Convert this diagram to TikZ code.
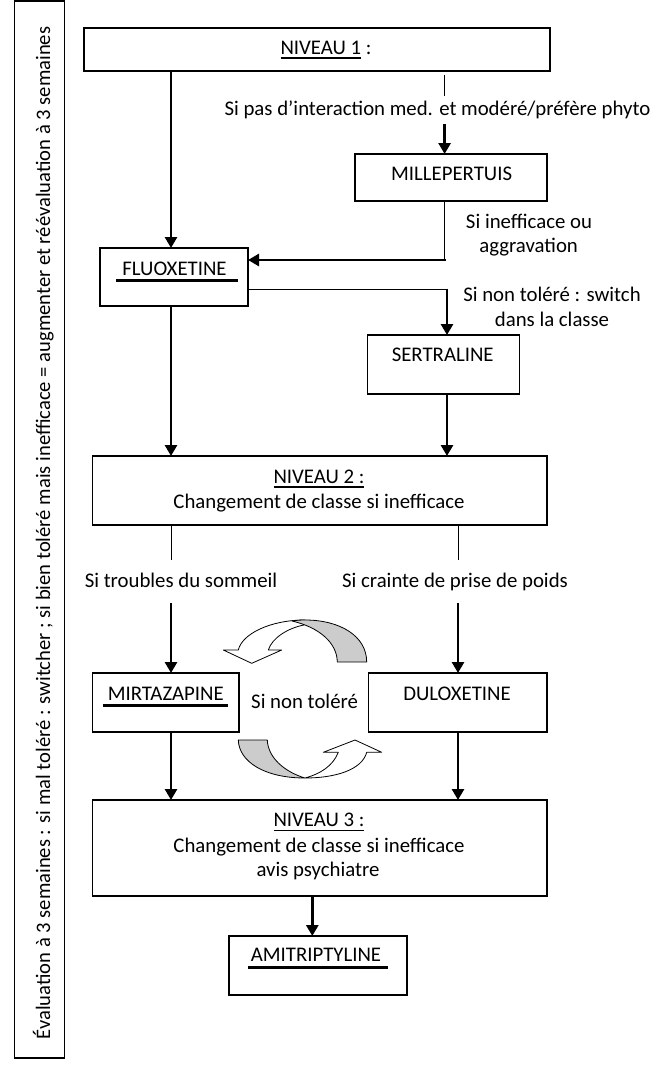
\documentclass[tikz,border=0pt]{standalone}
\usepackage{fontspec}
\setmainfont{Carlito}
\usetikzlibrary{arrows.meta}
\newcommand\myfs{\fontsize{20.8}{25}\selectfont}
\newcommand\mysidefs{\fontsize{20.6}{24}\selectfont}
\newcommand\myul[1]{\setbox0\hbox{#1}\makebox[0pt][l]{\rule[-4.2pt]{\wd0}{1.4pt}}\box0}
\newcommand\mythul[3]{\setbox0\hbox{#1}\makebox[0pt][l]{\hspace*{-#2}\rule[-7.3pt]{\dimexpr\wd0+#2+#3\relax}{3pt}}\box0}
\begin{document}
\begin{tikzpicture}[x=1pt,y=-1pt,
 box/.style={draw, line width=1.2pt, inner sep=0pt, outer sep=0pt},
 txt/.style={inner sep=0pt, anchor=base, font=\myfs},
 arr/.style={line width=2.8pt, -{Triangle[length=11pt,width=12pt]}},
 thinl/.style={line width=1pt},
 shp/.style={draw, line width=0.8pt, line join=round}]
\useasboundingbox (0,0) rectangle (662,1066);
% side frame
\node[box, line width=1.4pt, minimum width=49.5, minimum height=1057] (frame) at (39.5,529.5) {};
\node[txt, font=\mysidefs, rotate=90] (side) at (50,533) {Évaluation à 3 semaines : si mal toléré : switcher ; si bien toléré mais inefficace = augmenter et réévaluation à 3 semaines};
% boxes
\node[box, minimum width=466, minimum height=43] (niv1) at (317,49.5) {};
\node[box, minimum width=192, minimum height=47] (mil) at (451,177.5) {};
\node[box, minimum width=148, minimum height=58] (fluo) at (174,277) {};
\node[box, minimum width=152, minimum height=59] (sert) at (443.6,364.5) {};
\node[box, minimum width=454.3, minimum height=69] (niv2) at (319.8,490.5) {};
\node[box, minimum width=146.3, minimum height=59] (mirt) at (165.9,702.5) {};
\node[box, minimum width=178.2, minimum height=59] (dul) at (457.9,702.5) {};
\node[box, minimum width=454.3, minimum height=96] (niv3) at (319.8,848) {};
\node[box, minimum width=178, minimum height=59] (ami) at (318,965.5) {};
% texts
\node[txt] (t1) at (326,54.5) {\myul{NIVEAU 1}\ :};
\node[txt] (l1) at (437.5,115) {Si pas d’interaction med. et modéré/préfère phyto};
\node[txt] (t2) at (451.6,180) {MILLEPERTUIS};
\node[txt] (t3) at (174.5,275) {\mythul{FLUOXETINE}{6pt}{11pt}};
\node[txt] (l2a) at (529,228) {Si inefficace ou};
\node[txt] (l2b) at (528.6,252) {aggravation};
\node[txt] (l3a) at (552,301.7) {Si non toléré : switch};
\node[txt] (l3b) at (552,326.7) {dans la classe};
\node[txt] (t4) at (442.7,361.7) {SERTRALINE};
\node[txt] (t5a) at (319,483.3) {\myul{NIVEAU 2 :}};
\node[txt] (t5b) at (319,508.3) {Changement de classe si inefficace};
\node[txt] (l4) at (181,587.3) {Si troubles du sommeil};
\node[txt] (l5) at (455,587.3) {Si crainte de prise de poids};
\node[txt] (t6) at (165.8,700) {\mythul{MIRTAZAPINE}{5pt}{4pt}};
\node[txt] (l6) at (304.6,708.3) {Si non toléré};
\node[txt] (t7) at (457,700) {DULOXETINE};
\node[txt] (t8a) at (319,826.7) {\myul{NIVEAU 3 :}};
\node[txt] (t8b) at (319,852.3) {Changement de classe si inefficace};
\node[txt] (t8c) at (318,876.7) {avis psychiatre};
\node[txt] (t9) at (316,961.7) {\mythul{AMITRIPTYLINE}{3pt}{6.5pt}};
% helper coordinates
\coordinate (xL) at (171,0);
\coordinate (xM) at (444.6,0);
\coordinate (xS) at (447,0);
\coordinate (xR) at (458,0);
\coordinate (xC) at (312.3,0);
\coordinate (m1) at (444.6,96);
\coordinate (m2) at (444.6,124);
\coordinate (m3) at (444.6,260);
\coordinate (m4) at (447,289);
\coordinate (n1) at (171,560);
\coordinate (n2) at (171,603);
\coordinate (n3) at (458,560);
\coordinate (n4) at (458,603);
% connectors
\draw[arr] (niv1.south -| xL) -- (fluo.north -| xL);
\draw[thinl] ([yshift=-4pt]niv1.south -| xM) -- (m1);
\draw[arr] (m2) -- (mil.north -| xM);
\draw[thinl] (mil.south -| xM) -- (m3);
\draw[arr] ([xshift=1.4pt]m3) -- (fluo.east |- m3);
\draw[thinl] (fluo.east |- m4) -- (m4);
\draw[arr] ([yshift=0.5pt]m4) -- (sert.north -| m4);
\draw[arr] (fluo.south -| xL) -- (niv2.north -| xL);
\draw[arr] (sert.south -| xS) -- (niv2.north -| xS);
\draw[thinl] (niv2.south -| xL) -- (n1);
\draw[arr] (n2) -- (mirt.north -| xL);
\draw[thinl] (niv2.south -| xR) -- (n3);
\draw[arr] (n4) -- (dul.north -| xR);
\draw[arr] (mirt.south -| xL) -- (niv3.north -| xL);
\draw[arr] (dul.south -| xR) -- (niv3.north -| xR);
\draw[arr] (niv3.south -| xC) -- (ami.north -| xC);
% curved arrows (top)
\path[shp, fill=white] (305,620) .. controls (270,620) and (242,634) .. (238.3,650) -- (223.3,650) -- (251.7,663.3) -- (281.7,650) -- (268.3,650) .. controls (272,638) and (288,628) .. (304,625) -- cycle;
\path[shp, fill=black!20] (366.7,662) .. controls (366.7,636) and (340,620) .. (305,620) .. controls (300,620) and (296,620.3) .. (292,621) .. controls (318,627) and (337,642) .. (337.3,662) -- cycle;
% curved arrows (bottom)
\path[shp, fill=white] (305,778) .. controls (335,778) and (362,770) .. (366.7,752.3) -- (381.7,752.3) -- (355,740) -- (323.3,752.3) -- (338.3,752.3) .. controls (333,766) and (320,774) .. (305,778) -- cycle;
\path[shp, fill=black!20] (238.3,740) .. controls (239,762) and (265,778) .. (305,778) .. controls (285,772) and (268,758) .. (267.3,740) -- cycle;
\end{tikzpicture}
\end{document}
